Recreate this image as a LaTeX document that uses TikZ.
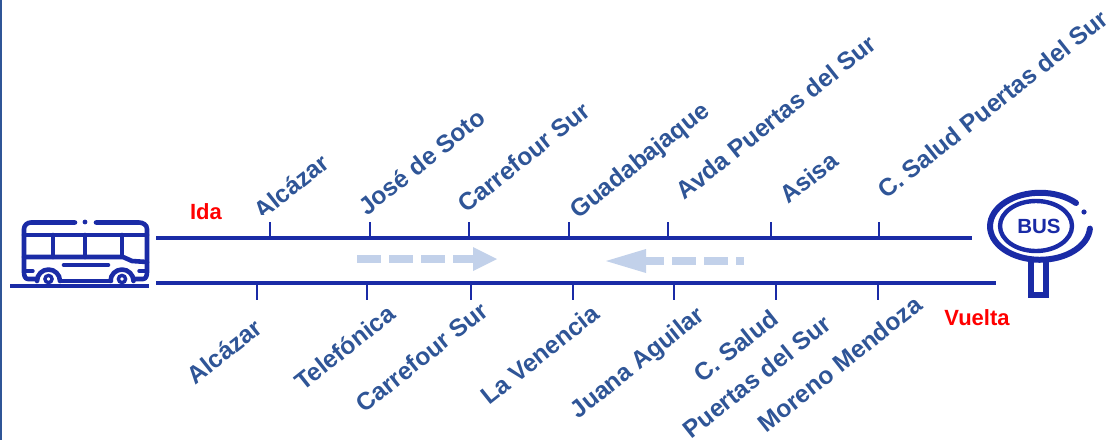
\documentclass[tikz,border=0pt]{standalone}
\usepackage{fontspec}
\setmainfont{Liberation Sans}
\definecolor{roadblue}{HTML}{1A2BA6}
\definecolor{labelblue}{HTML}{2F5597}
\definecolor{arrowblue}{HTML}{C2D1EA}
\tikzset{
  road/.style={draw=roadblue,line width=3.5pt},
  tick/.style={draw=roadblue,line width=2pt},
  icon/.style={draw=roadblue,line width=4.6pt,line cap=round,line join=round},
  stoplabel/.style={text=labelblue,font=\bfseries\fontsize{24.6}{28}\selectfont,rotate=38.5,inner sep=0pt,anchor=base east},
  redlabel/.style={text=red,font=\bfseries\fontsize{22}{26}\selectfont,inner sep=0pt},
  flow/.style={draw=arrowblue,line width=8pt,dash pattern=on 24pt off 8pt},
  flowhead/.style={fill=arrowblue,draw=none},
}
\begin{document}
\begin{tikzpicture}[x=1pt,y=-1pt]
\useasboundingbox (0,0) rectangle (1110,440);
\fill[white] (0,0) rectangle (1110,440);
\fill[labelblue] (0,0) rectangle (2,440);
% roads
\coordinate (roadAs) at (156,238); \coordinate (roadAe) at (972,238);
\coordinate (roadBs) at (156,283); \coordinate (roadBe) at (996,283);
\draw[road] (roadAs) -- (roadAe);
\draw[road] (roadBs) -- (roadBe);
% top ticks and labels
\foreach \n/\x/\lx/\ly/\t in {
 a/270/331/166/Alcázar,
 b/370/487/121/José de Soto,
 c/469/592/114/Carrefour Sur,
 d/569/711/114/Guadabajaque,
 e/668/878/47/Avda Puertas del Sur,
 f/771/840/164/Asisa,
 g/879/1110/22/C. Salud Puertas del Sur}{
  \coordinate (t\n) at (\x,238);
  \coordinate (u\n) at (\x,222);
  \draw[tick] (t\n) -- (u\n);
  \node[stoplabel] (l\n) at (\lx,\ly) {\t};
}
\fill[white] (245,215) rectangle (290,221);
% bottom ticks and labels
\foreach \n/\x/\lx/\ly/\t in {
 p/257/264/331/Alcázar,
 q/367/397/317/Telefónica,
 r/471/490/314/Carrefour Sur,
 s/573/601/317/La Venencia,
 t/674/706/318/Juana Aguilar,
 u/776/833/327/Puertas del Sur,
 v/878/924/308/Moreno Mendoza}{
  \coordinate (d\n) at (\x,283);
  \coordinate (e\n) at (\x,300);
  \draw[tick] (d\n) -- (e\n);
  \node[stoplabel] (m\n) at (\lx,\ly) {\t};
}
\node[stoplabel] (mw) at (780,322) {C. Salud};
% direction arrows
\coordinate (f1) at (357,259); \coordinate (f2) at (475,259);
\draw[flow] (f1) -- (f2);
\path[flowhead] (473,247) -- (497,259) -- (473,271) -- cycle;
\coordinate (g1) at (744,261); \coordinate (g2) at (645,261);
\draw[flow,dash phase=5pt] (g2) -- (g1);
\path[flowhead] (646,249) -- (606,261) -- (646,273) -- cycle;
% direction labels
\node[redlabel] (ida) at (206,212) {Ida};
\node[redlabel] (vuelta) at (977,318) {Vuelta};
% bus icon
\draw[icon] (75,222.5) -- (31,222.5) to[out=180,in=90] (24,229) -- (24,272) to[out=-90,in=180] (28,279) -- (36,279);
\draw[icon] (96,222.5) -- (139,222.5) to[out=0,in=90] (147,229) -- (147,272) to[out=-90,in=0] (143,279) -- (135,279);
\draw[icon] (24,235) -- (147,235);
\draw[icon] (24,257) -- (123,257) -- (132,261) -- (147,262);
\draw[icon] (53,235) -- (53,257);
\draw[icon] (85,235) -- (85,257);
\draw[icon] (122,235) -- (122,256);
\draw[icon] (64,265) -- (108,265);
\draw[icon] (62,281) -- (111,281);
\draw[icon,line width=3.4pt] (24,271) -- (33,271);
\draw[icon,line width=3.4pt] (139,271) -- (147,271);
\draw[icon] (37,281) arc[start angle=180,end angle=360,radius=11.5];
\draw[icon] (110.5,281) arc[start angle=180,end angle=360,radius=11.5];
\fill[roadblue] (85,222) circle (2.4pt);
\draw[roadblue,line width=3.4pt,fill=white] (48.5,279) circle (3.6pt);
\draw[roadblue,line width=3.4pt,fill=white] (122,279) circle (3.6pt);
\draw[draw=roadblue,line width=4pt] (10,286) -- (149,286);
% bus stop sign
\draw[draw=roadblue,line width=6pt,line cap=round] (1076,203) arc[start angle=-44,end angle=-356,x radius=50,y radius=33.5];
\fill[roadblue] (1084,212) circle (2.6pt);
\draw[draw=roadblue,line width=4.4pt] (1036,226) ellipse (36pt and 25pt);
\node[text=roadblue,font=\bfseries\fontsize{20.5}{24}\selectfont,inner sep=0pt] (sign) at (1039,226.5) {BUS};
\draw[draw=roadblue,line width=6pt] (1031,262) -- (1031,295) -- (1046,295) -- (1046,262);
\end{tikzpicture}
\end{document}
